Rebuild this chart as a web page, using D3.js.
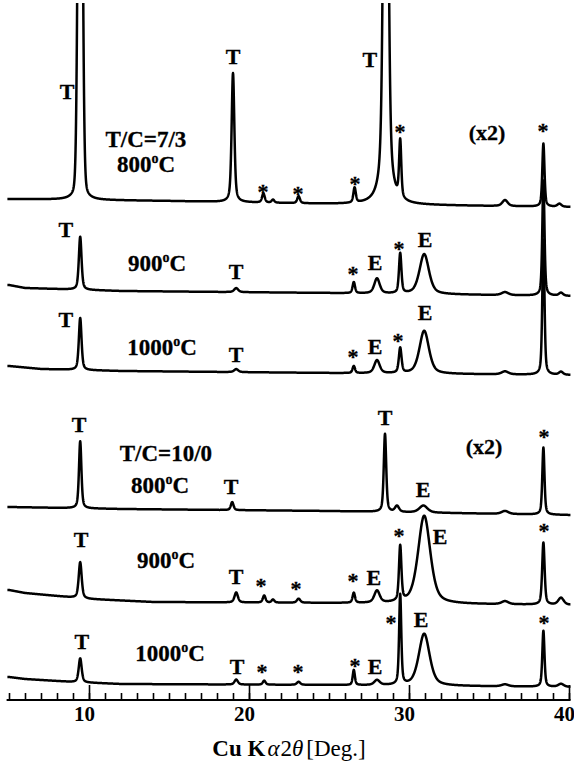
<!DOCTYPE html>
<html>
<head>
<meta charset="utf-8">
<script src="https://cdn.jsdelivr.net/npm/d3@7"></script>
<style>
  body { margin: 0; background: #fff; }
  text { font-family: "Liberation Serif", "Times New Roman", serif; }
</style>
</head>
<body>
<script>
// ---- data ----
// peaks: [2theta, height (a.u.), fwhm (deg), lorentz share (optional)]
var peaks_73_800 = [[9.45, 700, 0.28, 0.15], [19.0, 129, 0.2], [20.9, 9, 0.2], [21.5, 3, 0.2], [23.1, 7, 0.2],
  [26.6, 15, 0.18], [28.55, 700, 0.3], [29.45, 57, 0.16], [36.0, 6, 0.4], [38.4, 63, 0.16], [39.4, 3, 0.3]];
var peaks_73_900 = [[9.45, 53, 0.2], [19.2, 4, 0.3], [26.55, 11, 0.18], [28.0, 15, 0.4], [29.45, 40, 0.18],
  [30.95, 40, 0.7], [36.0, 3, 0.5], [38.4, 115, 0.16], [39.5, 3, 0.3]];
var peaks_73_1000 = [[9.45, 52, 0.2], [19.2, 3, 0.3], [26.55, 7, 0.18], [28.0, 13, 0.4], [29.45, 25, 0.2],
  [30.95, 43, 0.7], [36.0, 3, 0.5], [38.4, 135, 0.16], [39.5, 3, 0.3]];
var peaks_100_800 = [[9.45, 67, 0.18], [18.95, 8, 0.2], [28.5, 78, 0.18], [29.25, 6, 0.3], [30.9, 7, 0.6],
  [36.0, 3, 0.5], [38.4, 67, 0.16]];
var peaks_100_900 = [[9.45, 36, 0.22], [19.2, 10, 0.25], [20.95, 7, 0.2], [21.5, 3, 0.2], [23.1, 4, 0.25],
  [26.55, 10, 0.18], [28.0, 12, 0.4], [29.45, 55, 0.18], [30.95, 88, 0.9], [36.0, 3, 0.5], [38.4, 62, 0.18], [39.5, 7, 0.4]];
var peaks_100_1000 = [[9.45, 24, 0.22], [19.2, 5, 0.25], [20.95, 4, 0.2], [23.1, 3, 0.25], [26.55, 15, 0.16],
  [28.0, 5, 0.4], [29.45, 90, 0.16], [30.95, 52, 0.8], [36.0, 2, 0.5], [38.4, 56, 0.16], [39.5, 3, 0.4]];

// background drift: [2theta, a.u.]
var base_73_800 = [[5, 5], [15, 3], [25, 0], [40, -3]];
var base_73_900 = [[5, 8], [6, 5], [12, 2], [25, 0], [40, -3]];
var base_73_1000 = [[5, 7], [7, 4], [12, 2], [25, 0], [40, -2]];
var base_100_800 = [[5, 4], [12, 2], [25, 0], [40, -4]];
var base_100_900 = [[5, 13], [6, 10], [8, 7], [10, 4], [14, 1], [25, 0], [40, -2]];
var base_100_1000 = [[5, 8], [6, 6], [9, 3], [12, 1], [25, 0], [40, -2]];

var ratioLabels = ["T/C=7/3", "", "", "T/C=10/0", "", ""];
var tempLabels = ["800", "900", "1000", "800", "900", "1000"];

// peak marks: [text, 2theta, level]
var marks_73_800 = [["T", 8.63, 608], ["T", 19.0, 643], ["*", 20.88, 512], ["*", 23.06, 510], ["*", 26.63, 520],
  ["T", 27.56, 640], ["*", 29.44, 572], ["*", 38.38, 573], ["(x2)", 34.88, 567]];
var marks_73_900 = [["T", 8.56, 470], ["T", 19.19, 428], ["*", 26.5, 430], ["E", 27.88, 437], ["*", 29.38, 455], ["E", 31.0, 460]];
var marks_73_1000 = [["T", 8.56, 380], ["T", 19.19, 345], ["*", 26.5, 347], ["E", 27.88, 353], ["*", 29.31, 363], ["E", 31.0, 387]];
var marks_100_800 = [["T", 9.38, 275], ["T", 18.88, 213], ["T", 28.5, 282], ["E", 30.88, 210], ["(x2)", 34.69, 253], ["*", 38.44, 267]];
var marks_100_900 = [["T", 9.5, 160], ["T", 19.19, 123], ["*", 20.75, 118], ["*", 22.94, 115], ["*", 26.5, 123],
  ["E", 27.81, 122], ["*", 29.38, 168], ["E", 31.94, 163], ["*", 38.44, 173]];
var marks_100_1000 = [["T", 9.56, 58], ["T", 19.25, 33], ["*", 20.81, 32], ["*", 23.06, 32], ["*", 26.63, 38],
  ["E", 27.88, 33], ["*", 28.88, 81], ["E", 30.75, 80], ["*", 38.44, 81]];

var majorTicks = [10, 20, 30, 40];

// ---- layout ----
var width = 574, height = 767;
var axis_y = 700;
var offsets = [496, 407, 327, 189, 97, 15];
// sample label anchor [2theta, level] for the ratio line and temperature line
var ratioPos = [[13.56, 561], null, null, [14.81, 247], null, null];
var tempPos = [[13.56, 536], [14.25, 437], [14.56, 353], [14.44, 215], [14.81, 140], [15.06, 47]];

var allPeaks = [peaks_73_800, peaks_73_900, peaks_73_1000, peaks_100_800, peaks_100_900, peaks_100_1000];
var allBase = [base_73_800, base_73_900, base_73_1000, base_100_800, base_100_900, base_100_1000];
var allMarks = [marks_73_800, marks_73_900, marks_73_1000, marks_100_800, marks_100_900, marks_100_1000];

var x = d3.scaleLinear().domain([5, 40]).range([9, 569]);
var y = d3.scaleLinear().domain([0, 700]).range([axis_y, 0]);

var svg = d3.select("body").append("svg")
  .attr("width", width)
  .attr("height", height);

svg.append("defs").append("clipPath").attr("id", "plot-clip")
  .append("rect").attr("x", 0).attr("y", 3).attr("width", width).attr("height", height);

// pseudo-Voigt peak shape
function profile(t, p) {
  var eta = p.length > 3 ? p[3] : 0.5;
  var d = (t - p[0]) / (p[2] / 2);
  return p[1] * (eta / (1 + d * d) + (1 - eta) * Math.exp(-Math.LN2 * d * d));
}

var grid = d3.range(4.9, 40.1, 0.01);
var line = d3.line()
  .x(function(d) { return x(d[0]); })
  .y(function(d) { return y(d[1]); });

var traces = svg.append("g").attr("clip-path", "url(#plot-clip)");

allPeaks.forEach(function(pk, i) {
  var drift = d3.scaleLinear()
    .domain(allBase[i].map(function(k) { return k[0]; }))
    .range(allBase[i].map(function(k) { return k[1]; }))
    .clamp(true);
  var pts = grid.map(function(t) {
    var v = drift(t);
    pk.forEach(function(p) { v += profile(t, p); });
    return [t, offsets[i] + v];
  });
  traces.append("path")
    .attr("d", line(pts))
    .attr("fill", "none")
    .attr("stroke", "#000")
    .attr("stroke-width", 2.5)
    .attr("stroke-linejoin", "round");
});

// peak marks
allMarks.forEach(function(marks) {
  svg.append("g").selectAll("text")
    .data(marks)
    .enter()
    .append("text")
    .attr("x", function(d) { return x(d[1]); })
    .attr("y", function(d) { return y(d[2]); })
    .attr("dy", function(d) { return d[0] == "*" ? "0.52em" : "0.34em"; })
    .attr("text-anchor", "middle")
    .attr("font-size", "22px")
    .attr("font-weight", "bold")
    .attr("stroke", "#000")
    .attr("stroke-width", 0.3)
    .text(function(d) { return d[0]; });
});

// sample labels
tempLabels.forEach(function(t, i) {
  if (ratioLabels[i]) {
    svg.append("text")
      .attr("x", x(ratioPos[i][0]))
      .attr("y", y(ratioPos[i][1]))
      .attr("dy", "0.34em")
      .attr("text-anchor", "middle")
      .attr("font-size", "23px")
      .attr("font-weight", "bold")
      .attr("stroke", "#000")
      .attr("stroke-width", 0.3)
      .text(ratioLabels[i]);
  }
  var lab = svg.append("text")
    .attr("x", x(tempPos[i][0]))
    .attr("y", y(tempPos[i][1]))
    .attr("dy", "0.34em")
    .attr("text-anchor", "middle")
    .attr("font-size", "23px")
    .attr("font-weight", "bold")
    .attr("stroke", "#000")
    .attr("stroke-width", 0.3);
  lab.append("tspan").text(t);
  lab.append("tspan").attr("font-size", "14px").attr("dy", -9).text("o");
  lab.append("tspan").attr("dy", 9).text("C");
});

// x axis
var axisG = svg.append("g").attr("transform", "translate(0," + axis_y + ")");

axisG.append("g")
  .call(d3.axisTop(x).tickValues(d3.range(5, 41)).tickSize(7).tickSizeOuter(0).tickFormat(""))
  .call(function(g) { g.select(".domain").remove(); });

axisG.append("g")
  .call(d3.axisTop(x).tickValues(majorTicks).tickSize(15).tickSizeOuter(0).tickFormat(""))
  .call(function(g) { g.select(".domain").remove(); });

axisG.selectAll(".tick line").attr("stroke", "#000").attr("stroke-width", 1.6);

axisG.append("line")
  .attr("x1", x(4.85)).attr("x2", x(40.1))
  .attr("y1", 0).attr("y2", 0)
  .attr("stroke", "#000").attr("stroke-width", 2);

axisG.append("g")
  .call(d3.axisBottom(x).tickValues(majorTicks).tickSize(0).tickPadding(6))
  .call(function(g) { g.select(".domain").remove(); })
  .selectAll("text")
  .attr("dx", -5)
  .attr("fill", "#000")
  .attr("font-family", "Liberation Serif, serif")
  .attr("font-size", "21px")
  .attr("font-weight", "bold");

// axis title
var title = svg.append("text")
  .attr("x", (x(5) + x(40)) / 2)
  .attr("y", 756)
  .attr("text-anchor", "middle")
  .attr("font-size", "23px");
title.append("tspan").attr("font-weight", "bold").text("Cu K");
title.append("tspan").attr("font-style", "italic").attr("dx", 2).text("\u03b1");
title.append("tspan").attr("dx", 1).text("2");
title.append("tspan").attr("font-style", "italic").text("\u03b8");
title.append("tspan").attr("dx", 3).text("[Deg.]");
</script>
</body>
</html>
